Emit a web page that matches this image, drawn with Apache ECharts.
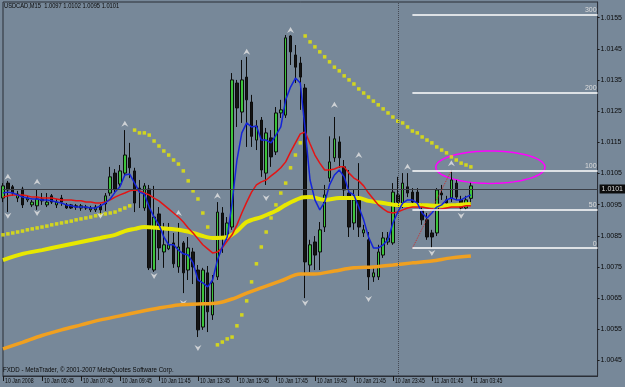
<!DOCTYPE html>
<html>
<head>
<meta charset="utf-8">
<script src="https://cdn.jsdelivr.net/npm/echarts@6/dist/echarts.min.js"></script>
<style>
html,body{margin:0;padding:0;background:#778899;}
#chart{width:625px;height:387px;}
</style>
</head>
<body>
<div id="chart"></div>
<script>
/** USDCAD M15 chart */
var FONT = "'Liberation Sans', 'DejaVu Sans', sans-serif";

// time labels, one every 8 bars (2 hours)
var tickLabels = ['10 Jan 2008', '10 Jan 05:45', '10 Jan 07:45', '10 Jan 09:45', '10 Jan 11:45',
    '10 Jan 13:45', '10 Jan 15:45', '10 Jan 17:45', '10 Jan 19:45', '10 Jan 21:45',
    '10 Jan 23:45', '11 Jan 01:45', '11 Jan 03:45'];
var labelBars = [0, 8, 16, 24, 32, 40, 48, 56, 64, 72, 80, 88, 96];
var priceTicks = [1.0045, 1.0055, 1.0065, 1.0075, 1.0085, 1.0095, 1.0105, 1.0115, 1.0125, 1.0135, 1.0145, 1.0155];
var barCount = 123; // visible slots incl. empty right shift
var priceMin = 1.004;
var priceMax = 1.016;

// [open, close, low, high]
var ohlc = [
    [1.00971, 1.01010, 1.00958, 1.01019], [1.01019, 1.00997, 1.00926, 1.01026], [1.01007, 1.00987, 1.00978, 1.01013],
    [1.00971, 1.00984, 1.00958, 1.00994], [1.01000, 1.00949, 1.00939, 1.01007], [1.00965, 1.00971, 1.00958, 1.00978],
    [1.00949, 1.00958, 1.00942, 1.00965], [1.00946, 1.00968, 1.00933, 1.00997], [1.00968, 1.00962, 1.00949, 1.00987],
    [1.00949, 1.00958, 1.00942, 1.00987], [1.00978, 1.00958, 1.00952, 1.00984], [1.00949, 1.00958, 1.00939, 1.00968],
    [1.00971, 1.00958, 1.00946, 1.00981], [1.00949, 1.00939, 1.00936, 1.00955], [1.00949, 1.00939, 1.00936, 1.00952],
    [1.00946, 1.00942, 1.00933, 1.00952], [1.00939, 1.00946, 1.00930, 1.00952], [1.00939, 1.00942, 1.00933, 1.00949],
    [1.00933, 1.00939, 1.00926, 1.00946], [1.00933, 1.00942, 1.00926, 1.00949], [1.00946, 1.00933, 1.00917, 1.00952],
    [1.00952, 1.00978, 1.00930, 1.00987], [1.00987, 1.01039, 1.00978, 1.01071], [1.01051, 1.01000, 1.00990, 1.01064],
    [1.01016, 1.01058, 1.01007, 1.01077], [1.01051, 1.01109, 1.01039, 1.01189], [1.01100, 1.01068, 1.01035, 1.01148],
    [1.01058, 1.00955, 1.00926, 1.01068], [1.01003, 1.00997, 1.00939, 1.01029], [1.00939, 1.01010, 1.00930, 1.01019],
    [1.01000, 1.00747, 1.00740, 1.01013], [1.00740, 1.00910, 1.00734, 1.01010], [1.00920, 1.00811, 1.00772, 1.00942],
    [1.00798, 1.00821, 1.00747, 1.00891], [1.00808, 1.00821, 1.00804, 1.00891], [1.00827, 1.00760, 1.00747, 1.00859],
    [1.00750, 1.00814, 1.00731, 1.00891], [1.00827, 1.00731, 1.00666, 1.00833], [1.00740, 1.00811, 1.00708, 1.00846],
    [1.00798, 1.00750, 1.00695, 1.00811], [1.00740, 1.00548, 1.00525, 1.00756], [1.00557, 1.00740, 1.00548, 1.00747],
    [1.00731, 1.00606, 1.00541, 1.00753], [1.00596, 1.00699, 1.00580, 1.00724], [1.00718, 1.00926, 1.00708, 1.00958],
    [1.00923, 1.00846, 1.00795, 1.00942], [1.00846, 1.00891, 1.00837, 1.00910], [1.00878, 1.01350, 1.00869, 1.01372],
    [1.01340, 1.01260, 1.01199, 1.01350], [1.01247, 1.01350, 1.01212, 1.01414], [1.01359, 1.01286, 1.01135, 1.01424],
    [1.01279, 1.01169, 1.01135, 1.01302], [1.01157, 1.01202, 1.01125, 1.01221], [1.01221, 1.01061, 1.01039, 1.01231],
    [1.01051, 1.01180, 1.01013, 1.01196], [1.01164, 1.01103, 1.01071, 1.01189], [1.01119, 1.01244, 1.01109, 1.01263],
    [1.01244, 1.01254, 1.01228, 1.01286], [1.01237, 1.01485, 1.01228, 1.01494], [1.01491, 1.01440, 1.01398, 1.01494],
    [1.01430, 1.01391, 1.01340, 1.01462], [1.01404, 1.01359, 1.01254, 1.01424], [1.01324, 1.00766, 1.00650, 1.01337],
    [1.00756, 1.00821, 1.00734, 1.00837], [1.00830, 1.00788, 1.00740, 1.00849], [1.00798, 1.00869, 1.00740, 1.00894],
    [1.00878, 1.00981, 1.00862, 1.01013], [1.01035, 1.01087, 1.01023, 1.01169], [1.01100, 1.01161, 1.01087, 1.01231],
    [1.01151, 1.01100, 1.01068, 1.01169], [1.01071, 1.00997, 1.00965, 1.01093], [1.00987, 1.00878, 1.00846, 1.01061],
    [1.00891, 1.00965, 1.00869, 1.00997], [1.00965, 1.00878, 1.00846, 1.01083], [1.00859, 1.00869, 1.00846, 1.00885],
    [1.00837, 1.00718, 1.00676, 1.00862], [1.00718, 1.00731, 1.00702, 1.00747], [1.00718, 1.00798, 1.00708, 1.00821],
    [1.00788, 1.00843, 1.00779, 1.00862], [1.00830, 1.00843, 1.00821, 1.00862], [1.00827, 1.00990, 1.00821, 1.01019],
    [1.00981, 1.00958, 1.00946, 1.01039], [1.00949, 1.01019, 1.00939, 1.01051], [1.01007, 1.00987, 1.00974, 1.01051],
    [1.00990, 1.00958, 1.00949, 1.01003], [1.00990, 1.00955, 1.00942, 1.01003], [1.00933, 1.00901, 1.00885, 1.00955],
    [1.00901, 1.00846, 1.00837, 1.00923], [1.00859, 1.00846, 1.00811, 1.00869], [1.00859, 1.00997, 1.00849, 1.01003],
    [1.00987, 1.00981, 1.00965, 1.01013], [1.00965, 1.00955, 1.00946, 1.00978], [1.00971, 1.01029, 1.00958, 1.01061],
    [1.01019, 1.00974, 1.00965, 1.01029], [1.00965, 1.00939, 1.00930, 1.00978], [1.00939, 1.00965, 1.00933, 1.00978],
    [1.0097, 1.0101, 1.0095, 1.0102]
];

// fast MA (blue), one value per bar
var blueMA = [1.00987, 1.00990, 1.00987, 1.00981, 1.00974, 1.00971, 1.00968, 1.00968, 1.00965, 1.00965,
    1.00962, 1.00958, 1.00955, 1.00949, 1.00946, 1.00942, 1.00942, 1.00942, 1.00939, 1.00939,
    1.00946, 1.00955, 1.00968, 1.00990, 1.01007, 1.01045, 1.01048, 1.01019, 1.00990, 1.00984,
    1.00942, 1.00910, 1.00885, 1.00846, 1.00821, 1.00821, 1.00804, 1.00792, 1.00788, 1.00763,
    1.00708, 1.00699, 1.00686, 1.00708, 1.00772, 1.00814, 1.00846, 1.00955, 1.01093, 1.01180,
    1.01212, 1.01199, 1.01202, 1.01157, 1.01157, 1.01148, 1.01173, 1.01199, 1.01286, 1.01327,
    1.01356, 1.01340, 1.01189, 1.01029, 1.00965, 1.00933, 1.00958, 1.01013, 1.01045, 1.01061,
    1.01039, 1.00990, 1.00981, 1.00942, 1.00901, 1.00846, 1.00811, 1.00811, 1.00821, 1.00837,
    1.00891, 1.00926, 1.00955, 1.00965, 1.00965, 1.00955, 1.00923, 1.00907, 1.00923, 1.00942,
    1.00949, 1.00965, 1.00971, 1.00965, 1.00965, 1.00974, 1.00981];

// medium MA (red), one value per bar
var redMA = [1.00974, 1.00978, 1.00981, 1.00981, 1.00981, 1.00978, 1.00974, 1.00974, 1.00971, 1.00971,
    1.00971, 1.00968, 1.00965, 1.00965, 1.00965, 1.00962, 1.00962, 1.00958, 1.00958, 1.00955,
    1.00955, 1.00958, 1.00965, 1.00974, 1.00981, 1.00987, 1.00994, 1.00997, 1.00994, 1.00987,
    1.00981, 1.00971, 1.00962, 1.00949, 1.00936, 1.00923, 1.00910, 1.00894, 1.00875, 1.00859,
    1.00840, 1.00821, 1.00808, 1.00795, 1.00798, 1.00811, 1.00833, 1.00853, 1.00885, 1.00923,
    1.00958, 1.00990, 1.01013, 1.01023, 1.01029, 1.01042, 1.01054, 1.01068, 1.01087, 1.01119,
    1.01148, 1.01177, 1.01183, 1.01145, 1.01109, 1.01083, 1.01061, 1.01061, 1.01064, 1.01071,
    1.01071, 1.01051, 1.01035, 1.01026, 1.01010, 1.00987, 1.00968, 1.00949, 1.00936, 1.00926,
    1.00923, 1.00926, 1.00933, 1.00939, 1.00942, 1.00942, 1.00942, 1.00939, 1.00936, 1.00933,
    1.00936, 1.00939, 1.00942, 1.00942, 1.00942, 1.00946, 1.00946];

// slow MAs, read at sample bars
var yellowIdx = [0, 4, 8, 12, 16, 20, 23, 25, 27, 29, 32, 36, 39, 41, 43, 46, 48, 50, 53, 56, 58, 61, 63, 66, 69, 73, 75, 78, 81, 85, 89, 93, 96];
var yellowMA = [1.00772, 1.00792, 1.00804, 1.00817, 1.00830, 1.00843, 1.00853, 1.00865, 1.00872, 1.00878, 1.00875,
    1.00869, 1.00859, 1.00849, 1.00843, 1.00846, 1.00865, 1.00894, 1.00910, 1.00930, 1.00949, 1.00971,
    1.00974, 1.00965, 1.00971, 1.00971, 1.00962, 1.00955, 1.00949, 1.00949, 1.00946, 1.00949, 1.00952];
var orangeIdx = [0, 4, 8, 12, 16, 20, 24, 28, 32, 36, 40, 44, 47, 50, 53, 57, 61, 64, 68, 72, 76, 80, 84, 88, 92, 96];
var orangeMA = [1.00487, 1.00508, 1.00530, 1.00548, 1.00564, 1.00580, 1.00593, 1.00606, 1.00618, 1.00628, 1.00631,
    1.00634, 1.00647, 1.00666, 1.00683, 1.00705, 1.00727, 1.00727, 1.00737, 1.00747, 1.00750, 1.00756,
    1.00763, 1.00769, 1.00779, 1.00785];

// parabolic SAR, '-' = no dot
var sar = [1.00853, 1.00856, 1.00859, 1.00862, 1.00865, 1.00869, 1.00872, 1.00875, 1.00878, 1.00881,
    1.00885, 1.00888, 1.00891, 1.00894, 1.00897, 1.00901, 1.00904, 1.00907, 1.00910, 1.00914,
    1.00917, 1.00920, 1.00923, 1.00926, 1.00933, 1.00939, 1.00946,
    1.01189, 1.01180, 1.01180, 1.01173, 1.01154, 1.01138, 1.01122, 1.01109, 1.01093, 1.01080,
    1.01058, 1.01026, 1.00994, 1.00968, 1.00923, 1.00878,
    '-',
    1.00500, 1.00509, 1.00519, 1.00525, 1.00561, 1.00596, 1.00641, 1.00702, 1.00760, 1.00814,
    1.00862, 1.00907, 1.00949, 1.00987, 1.01019, 1.01068, 1.01109, 1.01148,
    1.01491, 1.01472, 1.01456, 1.01440, 1.01424, 1.01408, 1.01391, 1.01379, 1.01363, 1.01350,
    1.01337, 1.01321, 1.01308, 1.01295, 1.01282, 1.01270, 1.01257, 1.01244, 1.01231, 1.01218,
    1.01212, 1.01199, 1.01186, 1.01180, 1.01167, 1.01157, 1.01148, 1.01135, 1.01125, 1.01116,
    1.01103, 1.01093, 1.01083, 1.01077, 1.01071];

// fractal arrows
var upIdx = [1, 7, 25, 36, 44, 50, 59, 68, 73, 83, 92];
var upPrice = [1.01039, 1.01023, 1.01209, 1.00923, 1.00978, 1.01440, 1.01510, 1.01270, 1.01109, 1.01071, 1.01083];
var downIdx = [1, 7, 20, 31, 37, 40, 54, 62, 75, 88, 94];
var downPrice = [1.00914, 1.00923, 1.00914, 1.00721, 1.00634, 1.00490, 1.00971, 1.00634, 1.00647, 1.00795, 1.00914];

// fibonacci object
var fiboNames = ['0', '50', '100', '200', '300'];
var fiboPrices = [1.0081, 1.00935, 1.0106, 1.0131, 1.0156];
var fiboAnchor = [[84, 1.0081], [92, 1.0106]];
var fiboStart = 84;

var lastPrice = 1.0101;
var daySeparator = 81;
var ellipseCenter = [100, 1.0107];
var ellipseRadius = [11.2, 0.00052];

var categories = [];
for (var k = 0; k < barCount; k++) {
    categories.push(String(k));
}

function pairs(idx, vals) {
    return idx.map(function (v, i) { return [v, vals[i]]; });
}

function isLabelBar(i) {
    return labelBars.indexOf(i) >= 0;
}

var fiboLines = fiboPrices.map(function (p, i) {
    return [{ coord: [fiboStart, p], label: { formatter: fiboNames[i] } }, { coord: [barCount - 1, p] }];
});

var option = {
    animation: false,
    backgroundColor: '#778899',
    textStyle: { fontFamily: FONT },
    grid: { left: 3, right: 23, top: 2, bottom: 11, show: true, borderColor: '#2a2e36', borderWidth: 1 },
    xAxis: {
        type: 'category',
        data: categories,
        boundaryGap: false,
        axisLine: { show: true, lineStyle: { color: '#2a2e36' } },
        axisTick: { show: true, interval: isLabelBar, length: 5, lineStyle: { color: '#1a1a1a' } },
        axisLabel: { show: false },
        splitLine: { show: false }
    },
    yAxis: {
        type: 'value',
        position: 'right',
        min: priceMin,
        max: priceMax,
        axisLine: { show: true, lineStyle: { color: '#2a2e36' } },
        axisTick: { show: true, customValues: priceTicks, length: 2, lineStyle: { color: '#1a1a1a' } },
        axisLabel: {
            customValues: priceTicks,
            formatter: function (v) { return v.toFixed(4); },
            margin: 3, fontSize: 7, color: '#0a0a0a', fontFamily: FONT
        },
        splitLine: { show: false }
    },
    graphic: [
        {
            type: 'text', x: 4, y: 3, scaleX: 0.82,
            style: { text: 'USDCAD,M15  1.0097 1.0102 1.0095 1.0101', fill: '#0a0a0a', font: '7px ' + FONT }
        },
        {
            type: 'text', x: 3, y: 367, scaleX: 0.88,
            style: { text: 'FXDD - MetaTrader, \u00a9 2001-2007 MetaQuotes Software Corp.', fill: '#0a0a0a', font: '7px ' + FONT }
        }
    ],
    series: [
        {
            // fibo levels
            type: 'line',
            data: [],
            silent: true,
            markLine: {
                symbol: ['none', 'none'],
                silent: true,
                lineStyle: { color: '#ffffff', width: 1.5, type: 'solid' },
                label: { show: true, position: 'insideEndTop', distance: 1, color: '#dcdcdc', fontSize: 7, fontFamily: FONT },
                data: fiboLines
            }
        },
        {
            type: 'line',
            data: fiboAnchor,
            symbol: 'none',
            lineStyle: { color: '#c83030', width: 1, type: 'dotted' }
        },
        {
            type: 'candlestick',
            data: ohlc,
            barWidth: 3,
            itemStyle: {
                color: '#3cc43c',
                color0: '#141414',
                borderColor: '#0c0c0c',
                borderColor0: '#0c0c0c',
                borderWidth: 1
            },
            markLine: {
                symbol: ['none', 'none'],
                silent: true,
                data: [
                    {
                        yAxis: lastPrice,
                        lineStyle: { color: '#3a3e46', width: 1, type: 'solid' },
                        label: {
                            show: true, position: 'end', distance: 2,
                            formatter: lastPrice.toFixed(4),
                            backgroundColor: '#0c0c0c', color: '#d8d8d8',
                            padding: [1, 2], fontSize: 7, fontFamily: FONT
                        }
                    },
                    {
                        xAxis: daySeparator,
                        lineStyle: { color: '#454a55', width: 1, type: 'dotted' },
                        label: { show: false }
                    }
                ]
            }
        },
        {
            type: 'line', data: pairs(orangeIdx, orangeMA),
            symbol: 'none', smooth: 0.3,
            lineStyle: { color: '#f0a020', width: 3.5 }
        },
        {
            type: 'line', data: pairs(yellowIdx, yellowMA),
            symbol: 'none', smooth: 0.3,
            lineStyle: { color: '#e8e800', width: 4 }
        },
        {
            type: 'line', data: redMA,
            symbol: 'none',
            lineStyle: { color: '#e41414', width: 1.5 }
        },
        {
            type: 'line', data: blueMA,
            symbol: 'none',
            lineStyle: { color: '#1424d8', width: 1.5 }
        },
        {
            type: 'scatter', data: sar,
            symbol: 'rect', symbolSize: 3.5,
            itemStyle: { color: '#e8e800' }
        },
        {
            type: 'scatter', data: pairs(upIdx, upPrice),
            symbol: 'path://M5,0 L10,9 L5,6 L0,9 Z', symbolSize: [7, 6],
            itemStyle: { color: '#e4e4e4' }
        },
        {
            type: 'scatter', data: pairs(downIdx, downPrice),
            symbol: 'path://M0,0 L5,3 L10,0 L5,9 Z', symbolSize: [7, 6],
            itemStyle: { color: '#e4e4e4' }
        },
        {
            // marker ellipse
            type: 'custom',
            data: [ellipseCenter],
            silent: true,
            renderItem: function (params, api) {
                var c = api.coord([ellipseCenter[0], ellipseCenter[1]]);
                var a = api.coord([ellipseCenter[0] + 1, ellipseCenter[1] + ellipseRadius[1]]);
                var rx = (a[0] - c[0]) * ellipseRadius[0];
                var ry = c[1] - a[1];
                var pts = [];
                for (var t = 0; t < 72; t++) {
                    var ang = t / 72 * Math.PI * 2;
                    pts.push([c[0] + rx * Math.cos(ang), c[1] + ry * Math.sin(ang)]);
                }
                return {
                    type: 'polygon',
                    shape: { points: pts },
                    style: { fill: 'none', stroke: '#ff00ff', lineWidth: 1.5 }
                };
            }
        },
        {
            // narrow time labels placed on the category axis
            type: 'custom',
            silent: true,
            clip: false,
            data: labelBars.map(function (b) { return [b, priceMin]; }),
            renderItem: function (params, api) {
                var p = api.coord([api.value(0), priceMin]);
                return {
                    type: 'text',
                    x: p[0] + 2,
                    y: p[1] + 2,
                    scaleX: 0.74,
                    style: {
                        text: tickLabels[params.dataIndex],
                        fill: '#0a0a0a',
                        font: '7px ' + FONT,
                        align: 'left',
                        verticalAlign: 'top'
                    }
                };
            }
        }
    ]
};

var myChart = echarts.init(document.getElementById('chart'));
myChart.setOption(option);
</script>
</body>
</html>
